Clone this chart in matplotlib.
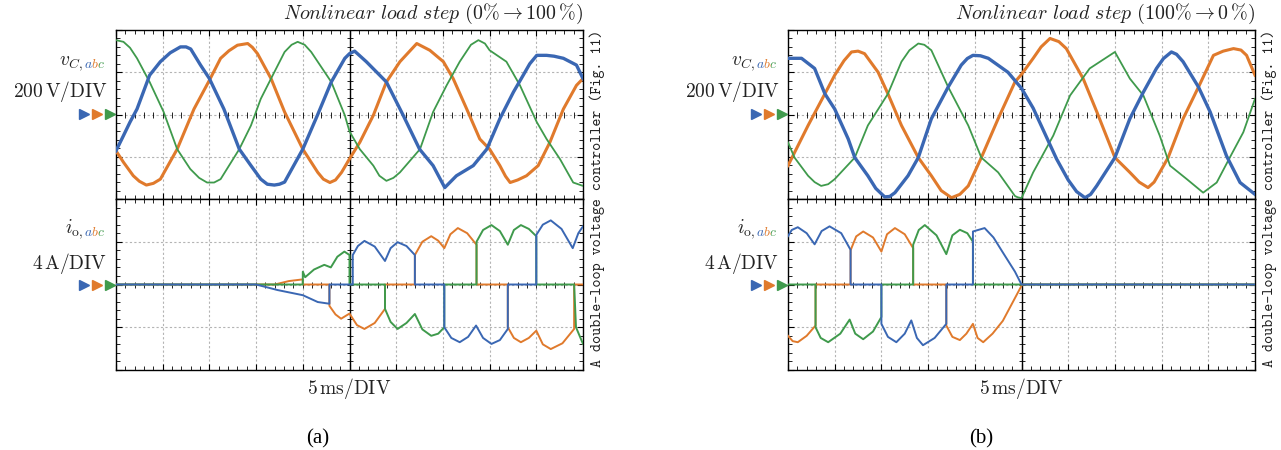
import matplotlib.pyplot as plt
import numpy as np
from matplotlib.ticker import MultipleLocator
from matplotlib.transforms import Bbox

plt.rcParams['mathtext.fontset'] = 'cm'

BLUE = '#3a67b3'
ORANGE = '#e07a2c'
GREEN = '#3f9a4c'
INK = '#222222'

# (a) nonlinear load step 0% -> 100%: capacitor voltages, (ms, V)
a_vb = [(0, -172), (0.8, -100), (1.5, -36), (2.25, 26), (3.6, 186), (4.75, 250), (5.8, 292), (6.9, 320), (7.5, 320),
        (8.0, 310), (9.05, 234), (10.0, 170), (11.55, 26), (13.2, -164), (14.45, -242), (15.5, -306), (16.2, -330),
        (16.95, -334), (17.5, -330), (18.05, -320), (20.0, -164), (21.6, 0), (23.05, 154), (24.5, 266), (25.0, 288),
        (25.55, 300), (26.8, 250), (28.95, 154), (30.75, -4), (32.5, -164), (33.95, -242), (35.2, -346), (36.45, -290),
        (38.25, -242), (39.7, -164), (41.1, -20), (42.55, 106), (43.6, 186), (44.3, 240), (45.05, 280), (46.1, 280),
        (46.9, 276), (47.9, 266), (49.3, 234), (50.0, 170)]
a_vo = [(0, -172), (0.8, -226), (1.85, -290), (2.5, -316), (3.25, -334), (4.0, -326), (4.75, -306), (6.55, -164),
        (8.35, 26), (10.0, 162), (11.2, 266), (12.1, 302), (13.0, 328), (14.1, 336), (14.6, 318), (15.15, 288),
        (16.6, 170), (18.05, 12), (20.0, -164), (21.6, -274), (22.2, -306), (22.9, -322), (23.5, -310), (24.15, -274),
        (25.0, -210), (26.1, -132), (27.55, -4), (28.95, 154), (30.4, 250), (32.2, 336), (33.6, 304), (35.05, 250),
        (36.1, 170), (37.55, 26), (38.95, -116), (40.0, -164), (41.1, -242), (41.7, -292), (42.2, -322), (43.0, -310),
        (43.95, -290), (45.2, -242), (46.45, -132), (47.9, 26), (49.3, 138), (50.0, 170)]
a_vg = [(0, 352), (0.8, 344), (1.5, 316), (2.25, 266), (3.6, 154), (5.1, 12), (6.55, -164), (7.95, -258), (8.9, -300),
        (9.75, -322), (10.5, -322), (11.2, -306), (13.2, -164), (14.45, -52), (15.5, 74), (16.6, 170), (18.05, 296),
        (18.8, 330), (19.45, 344), (20.2, 330), (20.9, 296), (23.05, 154), (24.5, -4), (25.0, -80), (26.1, -164),
        (27.55, -242), (28.2, -290), (28.95, -314), (29.7, -300), (30.4, -274), (32.55, -164), (33.95, 12), (35.4, 138),
        (36.8, 250), (38.0, 330), (38.8, 352), (39.5, 336), (40.0, 304), (41.8, 250), (43.25, 138), (45.05, -36),
        (46.1, -116), (47.55, -212), (48.95, -322), (50.0, -338)]

# (a) output currents, (ms, A)
a_ib = [(0, 0), (15, 0), (17.3, -0.52), (20, -1.0), (21.6, -1.64), (22.85, -1.8), (22.85, 0), (25.35, 0),
        (25.35, 2.76), (25.9, 3.6), (26.6, 4.08), (27.7, 3.55), (28.8, 2.2), (29.4, 3.4), (30.15, 3.96), (31.1, 3.6),
        (32.0, 2.76), (32.0, 0), (35.15, 0), (35.15, -4.0), (35.9, -5.0), (36.8, -5.4), (37.7, -4.9), (38.55, -3.84),
        (39.3, -5.0), (40.2, -5.56), (41.1, -5.2), (41.95, -4.16), (41.95, 0), (45, 0), (45, 4.64), (45.7, 5.6),
        (46.55, 6.0), (47.7, 5.2), (48.9, 3.4), (49.5, 4.8), (50, 5.44)]
a_io = [(0, 0), (17, 0), (18.5, 0.32), (20, 0.48), (20, 0), (22.85, 0), (22.85, -2.0), (23.5, -2.8), (24.1, -3.2),
        (25, -2.72), (25.8, -3.8), (26.6, -4.16), (27.7, -3.6), (28.8, -2.28), (28.8, 0), (32, 0), (32, 2.76),
        (32.8, 4.0), (33.75, 4.52), (34.5, 4.1), (35.15, 3.4), (35.8, 4.7), (36.6, 5.28), (37.6, 4.8), (38.6, 3.72),
        (38.6, 0), (41.95, 0), (41.95, -4.0), (42.6, -5.0), (43.35, -5.4), (44.2, -5.0), (45, -4.32), (45.7, -5.6),
        (46.55, -6.04), (47.8, -5.5), (49.05, -4.16), (49.05, 0), (50, 0)]
a_ig = [(0, 0), (20, 0), (20, 1.2), (20.25, 0.68), (21.2, 1.4), (22.3, 1.84), (23.0, 1.6), (23.7, 2.6), (24.45, 3.08),
        (25, 2.76), (25, 0), (28.8, 0), (28.8, -2.28), (29.4, -3.5), (30.15, -4.16), (31.1, -3.6), (32, -2.76),
        (32.8, -4.2), (33.75, -4.8), (34.5, -4.6), (35.15, -4.0), (35.15, 0), (38.6, 0), (38.6, 4.0), (39.3, 5.1),
        (40.2, 5.56), (41.1, 5.0), (41.95, 3.72), (42.6, 5.1), (43.35, 5.56), (44.2, 5.2), (45, 4.52), (45, 0),
        (49.05, 0), (49.25, -4.0), (50, -5.56)]

# (b) nonlinear load step 100% -> 0%: capacitor voltages, (ms, V)
b_vb = [(0, 266), (1.45, 266), (2.85, 218), (3.95, 98), (5.0, 26), (6.45, -116), (7.15, -204), (8.55, -290),
        (9.4, -350), (10.35, -390), (10.9, -388), (11.45, -370), (12.85, -290), (13.95, -204), (15.35, -20),
        (17.15, 130), (18.55, 234), (19.2, 265), (19.8, 280), (20.6, 278), (21.45, 266), (23.55, 200), (25.0, 124),
        (26.25, 30), (27.5, -90), (28.75, -210), (30.0, -310), (30.9, -365), (31.8, -394), (32.4, -378), (33.05, -338),
        (35.0, -204), (36.6, -20), (38.05, 106), (39.45, 218), (40.2, 265), (41.05, 296), (41.6, 285), (42.3, 250),
        (43.95, 130), (45.2, 12), (46.95, -196), (48.4, -322), (50.0, -378)]
b_vo = [(0, -242), (0.7, -180), (2.15, -52), (3.95, 98), (5.0, 186), (6.0, 255), (6.8, 296), (7.5, 300), (8.2, 288),
        (9.65, 200), (10.7, 98), (12.15, -52), (13.95, -204), (15.35, -290), (16.4, -360), (17.5, -394), (18.4, -378),
        (19.3, -338), (20.7, -204), (22.5, -20), (24.3, 154), (25.0, 190), (26.25, 266), (27.1, 320), (28.05, 360),
        (29.0, 345), (29.8, 312), (31.6, 170), (33.05, 14), (35.0, -204), (36.6, -274), (37.6, -320), (38.55, -346),
        (39.2, -320), (39.8, -274), (40.7, -204), (42.3, -20), (43.95, 130), (45.55, 280), (46.6, 300), (47.7, 312),
        (48.5, 305), (49.1, 280), (50.0, 186)]
b_vg = [(0, -132), (0.7, -204), (2.15, -290), (2.85, -320), (3.55, -338), (4.3, -330), (5.0, -306), (7.15, -204),
        (8.55, -52), (10.7, 98), (12.15, 250), (13.0, 304), (13.95, 336), (14.6, 330), (15.35, 304), (17.15, 130),
        (19.3, -52), (20.7, -204), (22.5, -274), (24.3, -386), (24.6, -392), (25.0, -396), (26.25, -274), (28.4, -100),
        (30.2, 90), (32.3, 218), (35.0, 296), (36.6, 170), (38.05, 90), (39.8, -100), (40.9, -242), (42.7, -306),
        (44.45, -370), (45.9, -322), (47.3, -204), (48.75, -84), (50.0, 74)]

# (b) output currents, (ms, A)
b_ib = [(0, 4.52), (0.4, 5.1), (1.05, 5.36), (2.0, 4.8), (2.85, 3.76), (3.6, 5.0), (4.45, 5.44), (5.7, 4.8),
        (6.7, 3.24), (6.7, 0), (10, 0), (10, -3.68), (10.7, -4.9), (11.6, -5.4), (12.5, -4.6), (13.2, -3.36),
        (13.8, -5.0), (14.45, -5.68), (15.7, -5.0), (16.95, -3.68), (16.95, 0), (19.8, 0), (19.8, 4.96),
        (21.05, 5.28), (22.0, 4.4), (23.0, 3.0), (24.3, 1.2), (25, 0), (50, 0)]
b_io = [(0, -4.8), (0.5, -5.3), (1.05, -5.4), (2.0, -4.8), (2.95, -3.84), (2.95, 0), (6.7, 0), (6.7, 3.2), (7.3, 4.5),
        (8.05, 4.96), (9.1, 4.4), (10, 3.08), (10.6, 4.7), (11.45, 5.28), (12.5, 4.7), (13.4, 3.4), (13.4, 0),
        (16.95, 0), (16.95, -3.84), (17.6, -4.9), (18.4, -5.2), (19.1, -4.6), (19.8, -3.68), (20.3, -5.0),
        (20.9, -5.4), (21.9, -4.6), (23, -3.4), (25, -0.12), (25, 0), (50, 0)]
b_ig = [(0, 0), (2.95, 0), (2.95, -4.0), (3.5, -5.0), (4.3, -5.4), (5.6, -4.6), (6.6, -3.28), (7.2, -4.6),
        (8.05, -5.12), (9.1, -4.4), (10, -3.04), (10, 0), (13.4, 0), (13.4, 3.72), (14.0, 5.1), (14.65, 5.56),
        (15.9, 4.6), (16.95, 2.84), (17.6, 4.6), (18.4, 5.12), (19.2, 4.8), (19.8, 4.0), (19.8, 0), (50, 0)]

W, H = 1281, 450
fig = plt.figure(figsize=(W / 100, H / 100), dpi=100)
renderer = fig.canvas.get_renderer()


def scope_axes(rect, ymax):
    ax = fig.add_axes(rect)
    ax.set_xlim(0, 50)
    ax.set_ylim(-ymax, ymax)
    ax.xaxis.set_major_locator(MultipleLocator(5))
    ax.xaxis.set_minor_locator(MultipleLocator(1))
    ax.yaxis.set_major_locator(MultipleLocator(ymax / 2))
    ax.yaxis.set_minor_locator(MultipleLocator(ymax / 10))
    ax.set_axisbelow(True)
    ax.grid(which='major', color='#b4b4b4', ls=(0, (2, 2)), lw=0.8)
    ax.tick_params(which='both', direction='in', top=True, right=True,
                   labelbottom=False, labelleft=False, color='black')
    ax.tick_params(which='major', length=4, width=0.8)
    ax.tick_params(which='minor', length=3, width=0.6)
    for s in ax.spines.values():
        s.set_linewidth(1.0)
    # centre cross with its own ticks
    ax.axvline(25, color='black', lw=1.0, zorder=1)
    xt = np.arange(0, 50.01, 1)
    yt = np.arange(-ymax, ymax + 1e-9, ymax / 10)
    ax.plot(xt, np.zeros_like(xt), ls='none', marker='|', ms=5, mew=0.6, color='black', zorder=1)
    ax.plot(np.full_like(yt, 25), yt, ls='none', marker='_', ms=5, mew=0.6, color='black', zorder=1)
    # channel ground markers
    for xa, c in zip([-0.0685, -0.0407, -0.0128], [BLUE, ORANGE, GREEN]):
        ax.plot([xa], [0.5], transform=ax.transAxes, marker='>', ms=7, color=c, clip_on=False)
    return ax


def trace(ax, pts, color, lw):
    t, y = zip(*pts)
    ax.plot(t, y, color=color, lw=lw, solid_joinstyle='round', zorder=3)


def colored_label(x_right, y_base, tmpl, letters, colors, size=14):
    # same string drawn once per colour, each copy clipped to its own glyph span
    kw = dict(fontsize=size, ha='right', va='baseline')
    x, y = x_right / W, 1 - y_base / H
    probe = fig.text(x, y, tmpl % letters, **kw)
    bb = probe.get_window_extent(renderer)
    probe.remove()
    edges = [bb.x0 - 4]
    for k in range(len(letters)):
        p = fig.text(0, 0, tmpl % letters[:k], fontsize=size)
        edges.append(bb.x0 + p.get_window_extent(renderer).width)
        p.remove()
    edges.append(bb.x1 + 4)
    for i, c in enumerate([INK] + colors):
        t = fig.text(x, y, tmpl % letters, color=c, **kw)
        t.set_clip_box(Bbox([[edges[i], bb.y0 - 6], [edges[i + 1], bb.y1 + 6]]))
        t.set_clip_on(True)


panels = [
    (116, r'$\mathit{Nonlinear\ load\ step}\ (0\%\rightarrow 100\,\%)$', (a_vb, a_vo, a_vg), (a_ib, a_io, a_ig),
     '(a)', 318),
    (788, r'$\mathit{Nonlinear\ load\ step}\ (100\%\rightarrow 0\,\%)$', (b_vb, b_vo, b_vg), (b_ib, b_io, b_ig),
     '(b)', 981),
]

for left, title, (vb, vo, vg), (ib, io, ig), cap, cap_x in panels:
    axv = scope_axes([left / W, 251 / H, 467 / W, 169 / H], 400)
    axi = scope_axes([left / W, 80 / H, 467 / W, 171 / H], 8)
    trace(axv, vo, ORANGE, 2.2)
    trace(axv, vg, GREEN, 1.3)
    trace(axv, vb, BLUE, 2.4)
    trace(axi, io, ORANGE, 1.4)
    trace(axi, ig, GREEN, 1.4)
    trace(axi, ib, BLUE, 1.4)

    fig.text((left + 467) / W, 1 - 19 / H, title, fontsize=14.4, ha='right', va='baseline', color=INK)
    fig.text((left + 233) / W, 1 - 394 / H, r'$5\,\mathrm{ms/DIV}$', fontsize=14, ha='center', va='baseline',
             color=INK)
    fig.text(cap_x / W, 1 - 439 / H, cap, fontsize=15, family='Liberation Serif', ha='center', va='center')
    fig.text((left + 481) / W, 1 - 198 / H, 'A double-loop voltage controller (Fig. 11)',
             family='cmtt10', fontsize=11, rotation=90, ha='center', va='center', color=INK)

    xr = left - 11
    colored_label(xr, 65, r'$v_{C,%s}$', 'abc', [BLUE, ORANGE, GREEN])
    fig.text((xr + 2) / W, 1 - 97 / H, r'$200\,\mathrm{V/DIV}$', fontsize=14, ha='right', va='baseline', color=INK)
    colored_label(xr, 233, r'$i_{\mathrm{o},%s}$', 'abc', [BLUE, ORANGE, GREEN])
    fig.text((xr + 2) / W, 1 - 269 / H, r'$4\,\mathrm{A/DIV}$', fontsize=14, ha='right', va='baseline', color=INK)

fig.savefig('out.png', dpi=100)
